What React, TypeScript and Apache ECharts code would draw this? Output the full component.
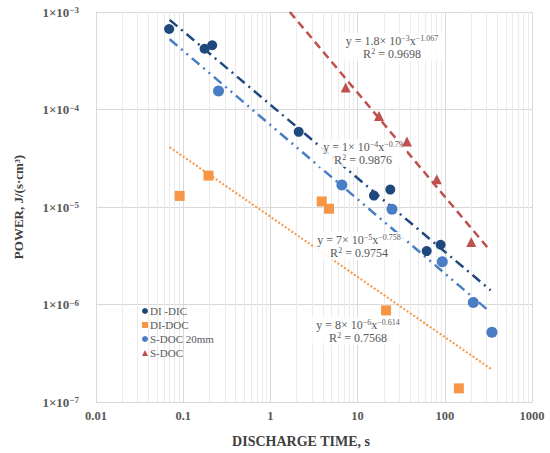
import React, { useEffect, useRef } from "react";
import * as echarts from "echarts";

const DI_DIC: [number, number][] = [
  [0.069, 6.7e-4], [0.176, 4.2e-4], [0.215, 4.56e-4], [2.11, 5.9e-5],
  [15.4, 1.31e-5], [23.7, 1.51e-5], [62, 3.53e-6], [89.5, 4.1e-6],
];
const DI_DOC: [number, number][] = [
  [0.091, 1.3e-5], [0.195, 2.1e-5], [3.88, 1.14e-5], [4.7, 9.6e-6],
  [21.2, 8.7e-7], [145, 1.38e-7],
];
const S_DOC_20: [number, number][] = [
  [0.254, 1.55e-4], [6.6, 1.68e-5], [24.8, 9.5e-6], [93.6, 2.75e-6],
  [212, 1.05e-6], [347, 5.2e-7],
];
const S_DOC: [number, number][] = [
  [7.3, 1.68e-4], [17.6, 8.6e-5], [36.8, 4.69e-5], [81, 1.93e-5], [201, 4.37e-6],
];

const TREND_DI_DIC: [number, number][] = [[0.07, 8.3e-4], [335, 1.4e-6]];
const TREND_S_DOC_20: [number, number][] = [[0.07, 5.25e-4], [315, 8.7e-7]];
const TREND_DI_DOC: [number, number][] = [[0.07, 4.1e-5], [347, 2.15e-7]];
const TREND_S_DOC: [number, number][] = [[1.67, 1e-3], [312, 3.8e-6]];

const X_TICK_LABELS = ["0.01", "0.1", "1", "10", "100", "1000"];
const X_DECADES = [-2, -1, 0, 1, 2];
const Y_DECADES = [-7, -6, -5, -4];

const C_NAVY = "#1F497D";
const C_BLUE = "#4A7EC4";
const C_ORANGE = "#F79646";
const C_RED = "#C0504D";
const SERIF = "'Liberation Serif', 'DejaVu Serif', serif";
const TXT = "#595959";

function minorValues(decades: number[]) {
  const out: number[] = [];
  decades.forEach((d) => {
    for (let m = 2; m <= 9; m++) out.push(m * Math.pow(10, d));
  });
  return out;
}

const supRich = {
  n: { fontSize: 12, fontFamily: SERIF, color: TXT },
  s: { fontSize: 8, fontFamily: SERIF, color: TXT, verticalAlign: "top", lineHeight: 9 },
};

function eqText(x: number, y: number, line1: string, line2: string) {
  return {
    type: "text",
    x,
    y,
    z: 100,
    style: {
      text: line1 + "\n" + line2,
      align: "center",
      verticalAlign: "middle",
      fontFamily: SERIF,
      fontSize: 12,
      lineHeight: 13,
      fill: TXT,
      backgroundColor: "rgba(255,255,255,0.85)",
      padding: [1, 4],
      rich: supRich,
    },
  };
}

export default function App() {
  const ref = useRef<HTMLDivElement>(null);
  useEffect(() => {
    if (!ref.current) return;
    const chart = echarts.init(ref.current, null, { renderer: "svg" });
    const minorLine = { color: "#ebebeb", width: 1, type: "solid" };
    const option: any = {
      animation: false,
      backgroundColor: "#ffffff",
      grid: { left: 96, top: 12, right: 18, bottom: 51 },
      xAxis: {
        type: "log",
        min: 0.01,
        max: 1000,
        logBase: 10,
        axisLine: { show: true, lineStyle: { color: "#d9d9d9" } },
        axisTick: { show: false },
        splitLine: { show: true, lineStyle: { color: "#d9d9d9" } },
        axisLabel: {
          margin: 7,
          fontFamily: SERIF,
          fontWeight: "bold",
          fontSize: 12.5,
          color: TXT,
          formatter: (v: number) => {
            const e = Math.round(Math.log10(v));
            return X_TICK_LABELS[e + 2] ?? "";
          },
        },
      },
      yAxis: {
        type: "log",
        min: 1e-7,
        max: 1e-3,
        logBase: 10,
        axisLine: { show: true, lineStyle: { color: "#d9d9d9" } },
        axisTick: { show: false },
        splitLine: { show: true, lineStyle: { color: "#d9d9d9" } },
        axisLabel: {
          margin: 17,
          fontFamily: SERIF,
          fontWeight: "bold",
          fontSize: 13,
          color: TXT,
          formatter: (v: number) => {
            const e = Math.round(Math.log10(v));
            return "{b|1×10}{s|−" + Math.abs(e) + "}";
          },
          rich: {
            b: { fontFamily: SERIF, fontWeight: "bold", fontSize: 13, color: TXT },
            s: { fontFamily: SERIF, fontWeight: "bold", fontSize: 9, color: TXT, verticalAlign: "top", lineHeight: 9 },
          },
        },
      },
      legend: {
        orient: "vertical",
        left: 137,
        top: 300,
        itemWidth: 6,
        itemHeight: 6,
        itemGap: 2,
        textStyle: { fontFamily: SERIF, fontSize: 11, color: TXT, lineHeight: 12, padding: [0, 0, 0, -3] },
        data: [
          { name: "DI -DIC", icon: "circle", itemStyle: { color: C_NAVY } },
          { name: "DI-DOC", icon: "rect", itemStyle: { color: C_ORANGE } },
          { name: "S-DOC 20mm", icon: "circle", itemStyle: { color: C_BLUE } },
          { name: "S-DOC", icon: "triangle", itemStyle: { color: C_RED } },
        ],
      },
      series: [
        {
          name: "minor",
          type: "scatter",
          data: [],
          z: 1,
          silent: true,
          markLine: {
            z: 1,
            silent: true,
            symbol: ["none", "none"],
            label: { show: false },
            lineStyle: minorLine,
            emphasis: { disabled: true },
            data: [
              ...minorValues(X_DECADES).map((v) => ({ xAxis: v })),
              ...minorValues(Y_DECADES).map((v) => ({ yAxis: v })),
            ],
          },
        },
        {
          name: "trend DI-DIC",
          type: "line",
          data: TREND_DI_DIC,
          symbol: "none",
          z: 3,
          lineStyle: { color: C_NAVY, width: 2.5, type: [10, 5, 2, 5] },
        },
        {
          name: "trend S-DOC 20mm",
          type: "line",
          data: TREND_S_DOC_20,
          symbol: "none",
          z: 3,
          lineStyle: { color: C_BLUE, width: 2.5, type: [10, 5, 2, 5, 2, 5] },
        },
        {
          name: "trend DI-DOC",
          type: "line",
          data: TREND_DI_DOC,
          symbol: "none",
          z: 3,
          lineStyle: { color: C_ORANGE, width: 2, type: [2, 2] },
        },
        {
          name: "trend S-DOC",
          type: "line",
          data: TREND_S_DOC,
          symbol: "none",
          z: 3,
          clip: true,
          lineStyle: { color: C_RED, width: 2.5, type: [8, 5] },
        },
        {
          name: "DI -DIC",
          type: "scatter",
          data: DI_DIC,
          symbol: "circle",
          symbolSize: 10,
          z: 110,
          itemStyle: { color: C_NAVY, opacity: 1 },
        },
        {
          name: "DI-DOC",
          type: "scatter",
          data: DI_DOC,
          symbol: "rect",
          symbolSize: 10,
          z: 110,
          itemStyle: { color: C_ORANGE, opacity: 1 },
        },
        {
          name: "S-DOC 20mm",
          type: "scatter",
          data: S_DOC_20,
          symbol: "circle",
          symbolSize: 11,
          z: 110,
          itemStyle: { color: C_BLUE, opacity: 1 },
        },
        {
          name: "S-DOC",
          type: "scatter",
          data: S_DOC,
          symbol: "triangle",
          symbolSize: 10,
          z: 110,
          itemStyle: { color: C_RED, opacity: 1 },
        },
      ],
      graphic: [
        {
          type: "text",
          x: 18,
          y: 207,
          rotation: Math.PI / 2,
          style: {
            text: "POWER, J/(s·cm³)",
            align: "center",
            verticalAlign: "middle",
            fontFamily: SERIF,
            fontWeight: "bold",
            fontSize: 13,
            fill: "#404040",
          },
        },
        {
          type: "text",
          x: 301,
          y: 441,
          style: {
            text: "DISCHARGE TIME, s",
            align: "center",
            verticalAlign: "middle",
            fontFamily: SERIF,
            fontWeight: "bold",
            fontSize: 14,
            fill: "#404040",
          },
        },
        eqText(392, 47, "{n|y = 1.8× 10}{s|−3}{n|x}{s|−1.067}", "{n|R}{s|2}{n| = 0.9698}"),
        eqText(363, 153, "{n|y = 1× 10}{s|−4}{n|x}{s|−0.79}", "{n|R}{s|2}{n| = 0.9876}"),
        eqText(359, 246, "{n|y = 7× 10}{s|−5}{n|x}{s|−0.758}", "{n|R}{s|2}{n| = 0.9754}"),
        eqText(358, 331, "{n|y = 8× 10}{s|−6}{n|x}{s|−0.614}", "{n|R}{s|2}{n| = 0.7568}"),
      ],
    };
    chart.setOption(option);
    return () => chart.dispose();
  }, []);
  return (
    <div
      ref={ref}
      style={{ position: "fixed", left: 0, top: 0, width: 550, height: 453 }}
    />
  );
}
